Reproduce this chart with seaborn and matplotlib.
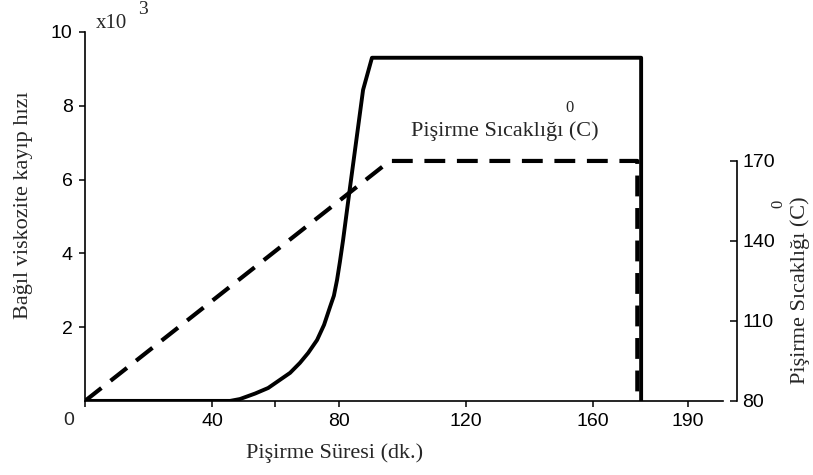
import numpy as np
import pandas as pd
import matplotlib
matplotlib.use("Agg")
import matplotlib.pyplot as plt
import seaborn as sns

# Relative viscosity loss rate (x10^3) against cooking time (min)
rate_time = [0, 45.7, 48.8, 53.6, 57.7, 61.4, 64.6, 67.7, 70.3, 73.1, 75.3, 77.2,
             78.4, 79.4, 80.3, 81.3, 82.2, 83.5, 87.6, 90.4, 175.2, 175.2]
rate_value = [0, 0, 0.05, 0.2, 0.35, 0.57, 0.76, 1.03, 1.3, 1.65, 2.06, 2.55,
              2.85, 3.28, 3.77, 4.36, 4.95, 5.8, 8.43, 9.3, 9.3, 0]

# Cooking temperature (deg C) against cooking time (min)
temp_time = [0, 96, 174, 174]
temp_value = [80, 170, 170, 80]

x_ticks = [0, 40, 80, 120, 160, 190]
x_minor = [60]
y_ticks = [2, 4, 6, 8, 10]
temp_ticks = [80, 110, 140, 170]

sns.set_style("ticks")
plt.rcParams['font.family'] = ['Liberation Serif', 'DejaVu Serif']
plt.rcParams['xtick.labelsize'] = 14
plt.rcParams['ytick.labelsize'] = 14

rate_df = pd.DataFrame({'time': rate_time, 'rate': rate_value})
temp_df = pd.DataFrame({'time': temp_time, 'temp': temp_value})

fig = plt.figure(figsize=(8.13, 4.75), dpi=100)
ax = fig.add_axes([0.1046, 0.156, 0.8019, 0.7768])
ax2 = ax.twinx()

sns.lineplot(data=rate_df, x='time', y='rate', ax=ax, color='black',
             linewidth=2.8, estimator=None, sort=False)
sns.lineplot(data=temp_df, x='time', y='temp', ax=ax2, color='black',
             linewidth=3, estimator=None, sort=False,
             linestyle=(0, (5, 2.8)))

ax.set_xlim(0, 205.4)
ax.set_ylim(0, 10)
ax2.set_ylim(80, 218.4)

ax.set_xticks(x_ticks)
ax.set_xticklabels([''] + [str(v) for v in x_ticks[1:]])
ax.set_xticks(x_minor, minor=True)
ax.set_yticks(y_ticks)
ax.set_yticklabels([str(v) for v in y_ticks])
ax2.set_yticks(temp_ticks)
ax2.set_yticklabels([str(v) for v in temp_ticks])

ax.tick_params(axis='both', which='both', direction='out', length=4, width=1.1,
               color='black', labelcolor='black', pad=5)
ax.tick_params(axis='x', which='minor', length=4, width=1.1)
ax2.tick_params(axis='y', direction='in', length=5, width=1.1, pad=4,
                color='black', labelcolor='black')

for a in (ax, ax2):
    a.spines['top'].set_visible(False)
    for s in a.spines.values():
        s.set_linewidth(1.2)
        s.set_color('black')
ax.spines['right'].set_visible(False)
ax2.spines['left'].set_visible(False)
ax2.spines['bottom'].set_visible(False)
ax.spines['bottom'].set_bounds(0, 201)
ax.spines['left'].set_bounds(0, 10)
ax2.spines['right'].set_bounds(80, 170)

ax.set_xlabel('Pişirme Süresi (dk.)', fontsize=16)
ax.xaxis.set_label_coords(0.382, -0.115)
ax.set_ylabel('Bağıl viskozite kayıp hızı', fontsize=16)
ax.yaxis.set_label_coords(-0.08, 0.53)
ax2.set_ylabel('')

# origin label
ax.text(-0.016, -0.03, '0', transform=ax.transAxes, ha='right', va='top',
        fontsize=14, family=['Liberation Sans'])

# scale multiplier
fig.text(0.118, 0.95, 'x10', fontsize=15, ha='left', va='center')
fig.text(0.17, 0.98, '3', fontsize=14, ha='left', va='center')

# series label
ax.text(0.5, 0.73, 'Pişirme Sıcaklığı (C)', transform=ax.transAxes,
        fontsize=16, ha='left', va='center')
ax.text(0.743, 0.795, '0', transform=ax.transAxes, fontsize=12,
        ha='center', va='center')

# right axis label
fig.text(0.984, 0.39, 'Pişirme Sıcaklığı (C)', rotation=90, fontsize=16,
         ha='center', va='center')
fig.text(0.958, 0.57, '0', rotation=90, fontsize=12, ha='center', va='center')

for lab in ax.get_xticklabels() + ax.get_yticklabels() + ax2.get_yticklabels():
    lab.set_family(['Liberation Sans'])

fig.savefig('out.png', dpi=100)
